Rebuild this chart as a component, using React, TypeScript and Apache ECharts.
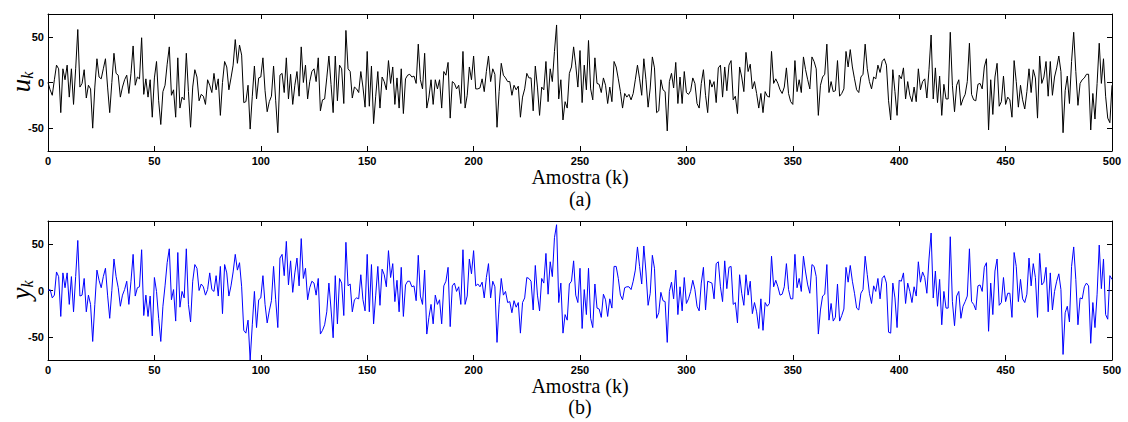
import React, { useEffect, useRef } from "react";
import * as echarts from "echarts";

// u_k (input) sampled at k = 0..500
const uValues: number[] = [
  0, -8, -14, 3, 19, 15, -33, 15, 3, 19,
  -16, 15, -24, 15, 58, -5, -1, 14, -17, -3,
  -7, -50, -5, 26, 6, 4, 15, 26, -5, -33,
  0, 32, 10, 8, -16, -5, 3, 8, -12, 10,
  40, -3, 6, 4, 49, -13, 4, -16, 3, -38,
  5, 23, -20, -46, -10, -3, 20, 39, -14, -8,
  -38, 27, -28, -16, -19, 32, -10, -49, -5, 14,
  6, -20, -13, -15, -24, 3, -3, -11, 10, -8,
  4, -36, 0, 23, 17, -8, 5, 19, 47, 21,
  41, 30, -22, -21, -3, -51, -15, 18, -18, 5,
  6, 27, -9, -32, -21, -15, 18, -20, -55, 8,
  10, -11, 27, -18, 9, -24, -3, 12, -15, 39,
  0, 19, -18, 1, 12, 15, 1, 27, -31, -19,
  -18, 5, 29, -2, -33, 29, -20, 19, 15, -23,
  57, 15, 12, -17, -5, -7, -11, 12, -5, -27,
  34, -26, 18, -45, -15, 12, -28, 6, 1, -8,
  24, -1, 17, -24, 5, -28, 15, -34, 4, 8,
  9, 6, 7, -1, 42, 3, -7, 32, -28, -16,
  3, -24, 3, -7, 3, -28, 12, 8, 22, -39,
  1, -1, -7, -3, -23, 34, -28, -14, 17, 3,
  29, -7, -7, -6, 4, -10, 12, 29, 1, 15,
  9, -49, -10, 21, 8, 5, 1, 1, -14, -3,
  -8, -4, -38, -16, -7, 10, 5, 5, -31, 18,
  -5, -36, -5, -8, 23, -21, 15, 1, 34, 63,
  -18, 3, -41, -21, -28, 10, 17, 39, 19, -5,
  35, -22, 19, -8, 46, -7, -19, 27, -1, -2,
  -11, 5, -3, -23, -5, -21, 23, 17, 4, -10,
  -28, -12, -16, -13, -19, -12, 3, 19, 4, -14,
  26, 3, -27, -6, 28, 16, -33, -31, 3, -8,
  -10, -53, 1, 10, -6, 22, -23, 6, -23, 12,
  -11, -13, -9, 5, -1, -23, -28, -1, 14, -14,
  -33, 3, -5, 1, -22, 16, 19, -16, 17, -9,
  19, 24, -19, -15, -34, 17, 6, -10, 33, 12,
  20, -7, 1, -12, -28, -12, -33, -10, -15, -16,
  34, -1, 4, -1, -8, -12, -5, 16, -12, -21,
  -24, 24, -10, 3, -11, 28, 14, 3, -7, 28,
  23, 15, -36, -3, 6, 9, 42, -11, 1, -10,
  -9, 24, -15, -12, -7, 34, 17, 36, 17, 4,
  -8, -11, 6, 9, 42, 15, 1, -7, 6, 4,
  19, 11, 23, 26, 19, -20, -41, 14, -10, -36,
  8, 4, 16, -18, 1, -14, -21, -5, -21, 15,
  -8, 1, 4, -17, 14, 52, -18, 16, -22, 7,
  -36, -2, -18, -18, 55, -3, -32, -3, 3, -25,
  -18, -13, 1, 43, -13, -19, -20, -2, -1, -7,
  17, 26, -52, 3, -35, 6, 21, -26, -21, 7,
  -24, -16, -19, -38, 24, 1, -27, -3, -19, -29,
  -10, 15, -11, 14, 5, -39, 29, -1, 6, 23,
  -15, 23, -14, 6, 16, 29, 12, -55, -9, 7,
  -23, 23, 55, 12, -25, -1, 3, 5, 9, 9,
  -52, -12, -40, -1, 43, -1, 26, -15, -39, -44,
  -3,
];

// y_k (output) sampled at k = 0..500
const yValues: number[] = [
  0, 1, -8, -5, 20, 15, -28, 19, 3, 19,
  -15, 15, -23, 15, 54, -6, -5, 13, -23, -5,
  -15, -55, -15, 22, 11, 3, 15, 24, -5, -30,
  0, 34, 15, 3, -17, -5, 1, 10, -15, 10,
  39, -6, 3, 4, 44, -27, -5, -28, -6, -49,
  14, -1, -30, -55, -17, 5, 30, 45, -10, 1,
  -33, 41, -18, -1, -8, 45, -15, -34, 10, 28,
  24, 0, 7, 4, -5, 1, 19, 1, -1, 16,
  -6, 26, -25, 28, 19, -6, 5, 20, 39, 22,
  30, 4, -43, -46, -32, -75, -37, -1, -40, -10,
  -8, 16, -15, -35, -22, -11, 26, -10, -40, 35,
  39, 16, 53, 6, 32, -2, 19, 35, 5, 56,
  13, 24, -10, 3, 10, 8, -5, 13, -47, -43,
  -37, -23, 8, -20, -51, 16, -36, 13, 8, -27,
  52, 5, 7, -23, -10, -8, -9, 17, -10, -22,
  39, -23, 28, -36, -5, 26, -16, 23, 17, 4,
  43, 14, 29, -12, 11, -23, 25, -28, 6, 10,
  10, 4, 5, -11, 38, -6, -15, 22, -47, -29,
  -15, -36, -5, -15, -10, -36, 5, 10, 25, -39,
  5, 8, -1, 4, -15, 44, -15, -6, 34, 18,
  43, 5, 7, 4, 9, -8, 14, 29, -8, 10,
  4, -56, -15, 13, -5, -1, -13, -12, -24, -11,
  -18, -13, -46, -13, -8, 14, 13, 10, -21, 27,
  -5, -22, 13, 8, 40, -4, 31, 15, 57, 71,
  -13, 8, -46, -26, -32, 7, 10, 32, -5, -13,
  24, -41, 1, -26, 24, -30, -40, 7, -19, -20,
  -29, -4, -10, -28, -9, -19, 26, 26, 13, -5,
  -10, 3, 4, 4, 1, 10, 22, 47, 26, 7,
  48, 20, -16, -3, 38, 24, -30, -24, -2, -11,
  -12, -56, -1, 9, -9, 22, -26, 4, -22, 14,
  -14, -9, -1, 11, 1, -17, -22, 8, 25, -21,
  10, 9, 8, -9, 29, 31, 4, -12, 32, 2,
  25, 26, -15, -13, -35, 17, -3, -16, 17, -5,
  10, -25, -13, -23, -41, -9, -43, -13, -17, -14,
  37, 4, 11, 4, -5, -4, 4, 29, 1, -9,
  -9, 39, 3, 13, -1, 37, 20, 6, -3, 28,
  26, 15, -47, -21, -6, -4, 28, -32, -14, -33,
  -29, 7, -33, -27, -20, 25, 9, 27, 10, -3,
  -19, -21, -3, 1, 37, 17, -3, -14, 5, -1,
  13, -9, 13, 16, 8, -45, -46, 8, -8, -40,
  11, 10, 19, -14, 8, -1, -13, 4, -6, 31,
  9, 20, 14, -3, 34, 62, -8, 21, -17, 12,
  -37, -1, -19, -19, 58, -12, -38, -6, -1, -30,
  -17, -12, -6, 45, -12, -15, -21, 5, 6, -1,
  25, 30, -44, 8, -26, 21, 34, -16, -13, 14,
  -12, -3, -3, -29, 41, 26, -12, 12, -9, -13,
  -4, 35, 5, 29, 14, -29, 40, 6, 9, 25,
  -23, 19, -21, -1, 10, 18, 1, -69, -24, -17,
  -34, 26, 47, 12, -37, -8, -9, 4, 8, 5,
  -57, -13, -40, -4, 49, 2, 34, -26, -31, 16,
  12,
];

const yTickValues = [-50, 0, 50];
const xLabel = "Amostra (k)";
const panelLabels = ["(a)", "(b)"];
const yNames = ["u", "y"];

const SERIF = '"Liberation Serif", "Times New Roman", serif';
const SANS = '"Liberation Sans", Arial, sans-serif';

export default function App() {
  const ref = useRef<HTMLDivElement>(null);

  useEffect(() => {
    if (!ref.current) return;
    const chart = echarts.init(ref.current, null, { renderer: "svg" });

    const uData = uValues.map((v, k) => [k, v]);
    const yData = yValues.map((v, k) => [k, v]);

    const xAxis = (gridIndex: number, position: string, main: boolean) => ({
      type: "value",
      gridIndex,
      position,
      min: 0,
      max: 500,
      interval: 50,
      name: main ? xLabel : "",
      nameLocation: "middle",
      nameGap: 16,
      nameTextStyle: { fontFamily: SERIF, fontSize: 20, color: "#000" },
      axisLine: { show: true, onZero: false, lineStyle: { color: "#000", width: 1 } },
      axisTick: { show: true, inside: true, length: 5, lineStyle: { color: "#000", width: 1 } },
      axisLabel: {
        show: main,
        color: "#000",
        fontFamily: SANS,
        fontWeight: "bold",
        fontSize: 11,
        margin: 4,
      },
      splitLine: { show: false },
    });

    const yAxis = (gridIndex: number, position: string, main: boolean) => ({
      type: "value",
      gridIndex,
      position,
      min: -75,
      max: 75,
      interval: 25,
      axisLine: { show: true, onZero: false, lineStyle: { color: "#000", width: 1 } },
      axisTick: {
        show: true,
        inside: true,
        length: 5,
        customValues: yTickValues,
        lineStyle: { color: "#000", width: 1 },
      },
      axisLabel: {
        show: main,
        customValues: yTickValues,
        color: "#000",
        fontFamily: SANS,
        fontWeight: "bold",
        fontSize: 11,
        margin: 4,
      },
      splitLine: { show: false },
    });

    const yName = (sym: string, cy: number) => ({
      type: "text",
      x: 21,
      y: cy,
      rotation: Math.PI / 2,
      style: {
        text: `{v|${sym}}{s|k}`,
        textAlign: "center",
        textVerticalAlign: "middle",
        rich: {
          v: { fontFamily: SERIF, fontStyle: "italic", fontSize: 27, fill: "#000", lineHeight: 28, verticalAlign: "middle" },
          s: { fontFamily: SERIF, fontStyle: "italic", fontSize: 16, fill: "#000", lineHeight: 28, verticalAlign: "bottom" },
        },
      },
    });

    chart.setOption({
      animation: false,
      backgroundColor: "#fff",
      grid: [
        { left: 48, right: 16, top: 14, height: 137, containLabel: false, outerBoundsMode: "none" },
        { left: 48, right: 16, top: 221, height: 139, containLabel: false, outerBoundsMode: "none" },
      ],
      xAxis: [xAxis(0, "bottom", true), xAxis(0, "top", false), xAxis(1, "bottom", true), xAxis(1, "top", false)],
      yAxis: [yAxis(0, "left", true), yAxis(0, "right", false), yAxis(1, "left", true), yAxis(1, "right", false)],
      series: [
        {
          type: "line",
          xAxisIndex: 0,
          yAxisIndex: 0,
          data: uData,
          showSymbol: false,
          lineStyle: { color: "#000", width: 1 },
          clip: true,
        },
        {
          type: "line",
          xAxisIndex: 2,
          yAxisIndex: 2,
          data: yData,
          showSymbol: false,
          lineStyle: { color: "#0000ff", width: 1 },
          clip: true,
        },
      ],
      graphic: [
        yName(yNames[0], 82),
        yName(yNames[1], 290),
        {
          type: "text",
          x: 580,
          y: 199,
          style: { text: panelLabels[0], font: `20px ${SERIF}`, fill: "#000", textAlign: "center", textVerticalAlign: "middle" },
        },
        {
          type: "text",
          x: 580,
          y: 407,
          style: { text: panelLabels[1], font: `20px ${SERIF}`, fill: "#000", textAlign: "center", textVerticalAlign: "middle" },
        },
      ],
    });

    return () => chart.dispose();
  }, []);

  return (
    <div
      ref={ref}
      style={{ position: "fixed", left: 0, top: 0, width: 1128, height: 422, background: "#fff" }}
    />
  );
}
